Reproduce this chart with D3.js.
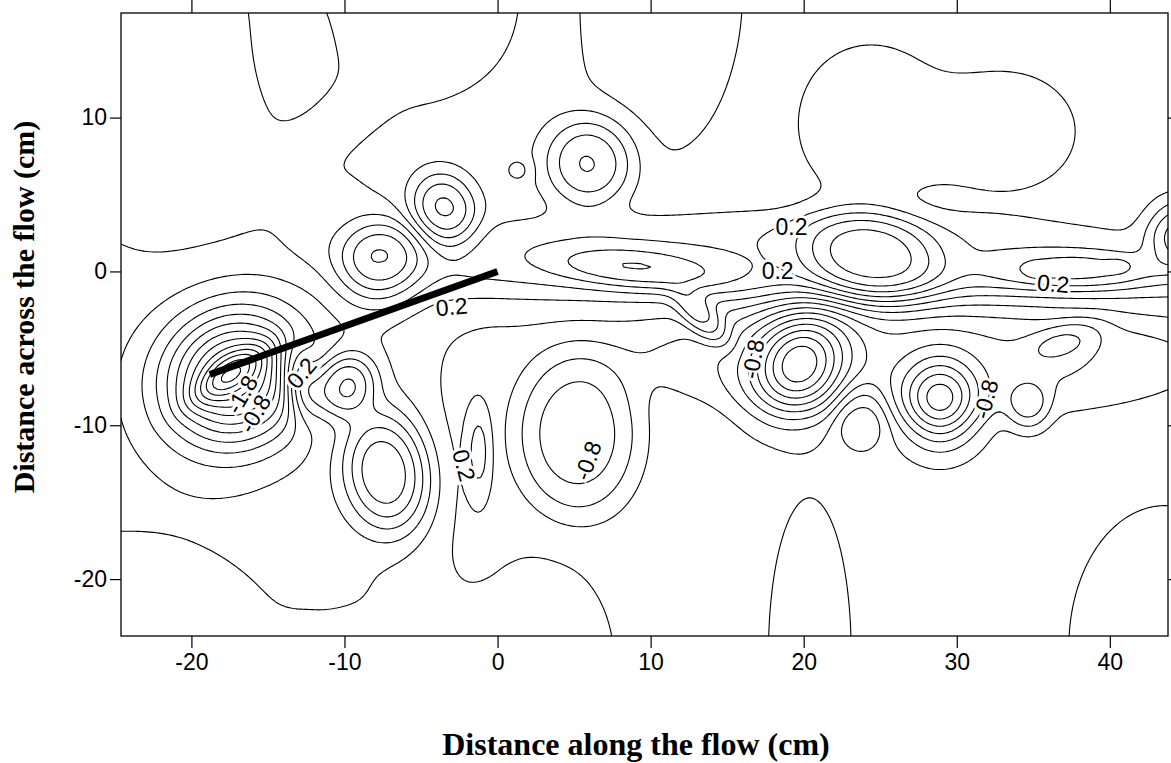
<!DOCTYPE html>
<html>
<head>
<meta charset="utf-8">
<script src="https://cdn.jsdelivr.net/npm/d3@7/dist/d3.min.js"></script>
<style>
  body { margin: 0; background: #fff; }
</style>
</head>
<body>
<div id="chart"></div>
<script>
// vortex cores (cm), strength in contour units, spread in cm
// the two long entries near the end: shear layer above and trough below the wake axis
const blobX    = [-17.3, -17.6, -13.0, -10.2, -7.7, -3.6, 1.3, 5.9, 9.0, 13.3, 24.3, 44.6, 38.0, 35.0, 40.5, -7.3, -1.3, 5.1, 19.6, 23.6, 28.8, 34.6, 37.0, -21.0, -6.0, -13.3, 10.3, 24.3, 33.0, -24.6, -10.5, 2.5, 18.0, 27.5, 20.3, 43.5, -10.5, -11.0];
const blobY    = [-7.0, -6.8, -7.3, -7.5, 0.6, 3.9, 6.5, 7.0, 0.1, -3.2, 0.8, 2.3, -0.1, -0.1, 0.3, -13.2, -11.8, -10.7, -6.1, -9.4, -8.6, -8.9, -4.6, 9.4, 18.0, 14.0, 18.0, 9.6, 9.0, -26.5, -25.5, -25.5, 1.0, -5.8, -25.0, -24.5, 3.0, 9.5];
const blobAmp  = [-1.8, -0.6, 0.7, 0.85, 0.75, -0.75, -0.18, 0.75, 0.45, 0.5, 0.75, 0.75, 0.45, 0.12, 0.12, 1.0, 0.35, -0.6, -1.35, 0.4, -1.15, -0.45, -0.3, 0.25, 0.25, -0.25, -0.25, 0.25, 0.25, -0.25, -0.2, 0.2, 0.3, -0.35, -0.25, -0.25, 0.15, 0.2];
const blobSx   = [4.6, 2.8, 1.2, 2.2, 2.8, 2.1, 0.9, 2.9, 5.5, 2.2, 4.6, 2.2, 5.5, 0.6, 0.8, 2.8, 0.9, 4.0, 3.5, 1.8, 2.5, 1.4, 2.6, 8.5, 8.0, 2.6, 5.8, 5.0, 4.8, 11.8, 3.75, 5.8, 26.0, 17.5, 2.8, 6.5, 3.5, 4.0];
const blobSy   = [4.2, 1.0, 2.4, 1.9, 2.6, 2.5, 0.8, 2.9, 1.3, 1.0, 3.0, 2.2, 1.3, 0.5, 0.5, 4.0, 3.2, 5.4, 2.9, 2.2, 2.8, 1.6, 1.2, 9.0, 7.5, 4.5, 11.0, 5.2, 4.0, 9.8, 3.0, 8.0, 2.8, 3.8, 10.5, 9.5, 3.5, 1.8];
const blobTilt = [30, 35, 10, 40, 40, 20, 0, 0, -5, -45, -12, 0, 0, 0, 0, 10, 0, 0, 60, 0, 0, 0, 20, 0, 0, 0, 0, 0, 0, 0, 0, 0, 0, 0, 0, 0, 0, 35];
const blobPow  = [2, 2, 2, 2.5, 2.5, 2.5, 2.5, 2.5, 2.5, 2.5, 3, 2.5, 2.5, 2, 2, 2.5, 2.5, 3.5, 2, 2.5, 2, 2.5, 2.5, 2.5, 2.5, 2.5, 2.5, 2.5, 2.5, 2.5, 2.5, 2.5, 4, 4, 2.5, 2.5, 2.5, 2.5];

// level above the wake, drop below it, wake centre line and its half-width (cm)
const levelAbove = 0.1;
const dropBelow = 0.4;
const wakeCentre = -2.6;
const wakeWidth = 1.0;
const wakeStart = [-12, 0];

const xTicks = [-20, -10, 0, 10, 20, 30, 40];
const yTicks = [-20, -10, 0, 10];

// contour labels as printed on the map
const labelText  = ["-1.8", "-0.8", "0.2", "0.2", "0.2", "-0.8", "-0.8", "0.2", "0.2", "-0.8", "0.2"];
const labelX     = [-16.7, -15.85, -12.8, -3.0, -2.2, 5.9, 16.7, 19.2, 18.3, 31.9, 36.3];
const labelY     = [-8.0, -9.25, -6.6, -2.3, -12.6, -12.3, -5.7, 2.9, 0.0, -8.3, -0.8];
const labelAngle = [-60, -60, -50, -5, 75, -70, -80, 0, 0, -75, 5];

// the plate
const bodyX = [-18.8, 0];
const bodyY = [-6.7, 0];

const width = 1171, height = 763;

const x = d3.scaleLinear().domain([-24.6, 43.8]).range([121, 1168]);
const y = d3.scaleLinear().domain([-23.7, 16.8]).range([636, 13]);

const svg = d3.select("#chart")
  .append("svg")
  .attr("width", width)
  .attr("height", height)
  .style("font-family", "Liberation Sans, Arial, sans-serif");

svg.append("defs").append("clipPath").attr("id", "plot")
  .append("rect")
  .attr("x", x(-24.6)).attr("y", y(16.8))
  .attr("width", x(43.8) - x(-24.6))
  .attr("height", y(-23.7) - y(16.8));

function smoothstep(a, b, v) {
  const t = Math.max(0, Math.min(1, (v - a) / (b - a)));
  return t * t * (3 - 2 * t);
}

// grid of the field
const step = 0.2;
const gx0 = -26, gx1 = 46, gy0 = -25, gy1 = 18;
const nx = Math.round((gx1 - gx0) / step) + 1;
const ny = Math.round((gy1 - gy0) / step) + 1;
const values = new Float64Array(nx * ny);
for (let j = 0; j < ny; j++) {
  const py = gy0 + j * step;
  const below = 1 - 1 / (1 + Math.exp(-(py - wakeCentre) / wakeWidth));
  for (let i = 0; i < nx; i++) {
    const px = gx0 + i * step;
    let v = levelAbove - dropBelow * below * smoothstep(wakeStart[0], wakeStart[1], px);
    for (let k = 0; k < blobX.length; k++) {
      const a = blobTilt[k] * Math.PI / 180;
      const dx = px - blobX[k], dy = py - blobY[k];
      const u = (dx * Math.cos(a) + dy * Math.sin(a)) / blobSx[k];
      const w = (-dx * Math.sin(a) + dy * Math.cos(a)) / blobSy[k];
      const r = Math.sqrt(u * u + w * w);
      v += blobAmp[k] * Math.exp(-Math.pow(r, blobPow[k]));
    }
    values[j * nx + i] = v;
  }
}

const levels = d3.range(-18, 8).map(k => k / 5);
const contours = d3.contours().size([nx, ny]).thresholds(levels)(values);

const path = d3.geoPath(d3.geoTransform({
  point(cx, cy) {
    this.stream.point(x(gx0 + cx * step), y(gy0 + cy * step));
  }
}));

const plot = svg.append("g").attr("clip-path", "url(#plot)");

plot.append("g")
  .attr("fill", "none")
  .attr("stroke", "#000")
  .attr("stroke-width", 1.1)
  .attr("stroke-linejoin", "round")
  .selectAll("path")
  .data(contours)
  .join("path")
  .attr("d", path);

// labels on the lines
plot.append("g")
  .selectAll("text")
  .data(labelText)
  .join("text")
  .attr("transform", (d, i) => `translate(${x(labelX[i])},${y(labelY[i])}) rotate(${labelAngle[i]})`)
  .attr("text-anchor", "middle")
  .attr("dy", "0.35em")
  .attr("font-size", 23)
  .attr("fill", "#000")
  .attr("stroke", "#fff")
  .attr("stroke-width", 6)
  .attr("paint-order", "stroke")
  .text(d => d);

// plate
plot.append("line")
  .attr("x1", x(bodyX[0])).attr("y1", y(bodyY[0]))
  .attr("x2", x(bodyX[1])).attr("y2", y(bodyY[1]))
  .attr("stroke", "#000")
  .attr("stroke-width", 7);

// frame + ticks
svg.append("rect")
  .attr("x", x(-24.6)).attr("y", y(16.8))
  .attr("width", x(43.8) - x(-24.6))
  .attr("height", y(-23.7) - y(16.8))
  .attr("fill", "none")
  .attr("stroke", "#000")
  .attr("stroke-width", 1.3);

const fmt = d => String(d);
const gx = svg.append("g")
  .attr("transform", `translate(0,${y(-23.7)})`)
  .call(d3.axisBottom(x).tickValues(xTicks).tickSize(12).tickPadding(6).tickFormat(fmt));
const gxt = svg.append("g")
  .attr("transform", `translate(0,${y(16.8)})`)
  .call(d3.axisTop(x).tickValues(xTicks).tickSize(13).tickFormat(""));
const gy = svg.append("g")
  .attr("transform", `translate(${x(-24.6)},0)`)
  .call(d3.axisLeft(y).tickValues(yTicks).tickSize(11).tickPadding(3).tickFormat(fmt));
const gyr = svg.append("g")
  .attr("transform", `translate(${x(43.8)},0)`)
  .call(d3.axisRight(y).tickValues(yTicks).tickSize(10).tickFormat(""));

[gx, gxt, gy, gyr].forEach(g => {
  g.select(".domain").remove();
  g.selectAll(".tick line").attr("stroke", "#000").attr("stroke-width", 1.2);
  g.selectAll("text")
    .attr("font-family", "Liberation Sans, Arial, sans-serif")
    .attr("font-size", 23)
    .attr("fill", "#000");
});

svg.append("text")
  .attr("x", 636).attr("y", 755)
  .attr("text-anchor", "middle")
  .attr("font-family", "Liberation Serif, Times New Roman, serif")
  .attr("font-weight", "bold")
  .attr("font-size", 32)
  .text("Distance along the flow (cm)");

svg.append("text")
  .attr("transform", "translate(34,307) rotate(-90)")
  .attr("text-anchor", "middle")
  .attr("font-family", "Liberation Serif, Times New Roman, serif")
  .attr("font-weight", "bold")
  .attr("font-size", 30)
  .text("Distance across the flow (cm)");
</script>
</body>
</html>
